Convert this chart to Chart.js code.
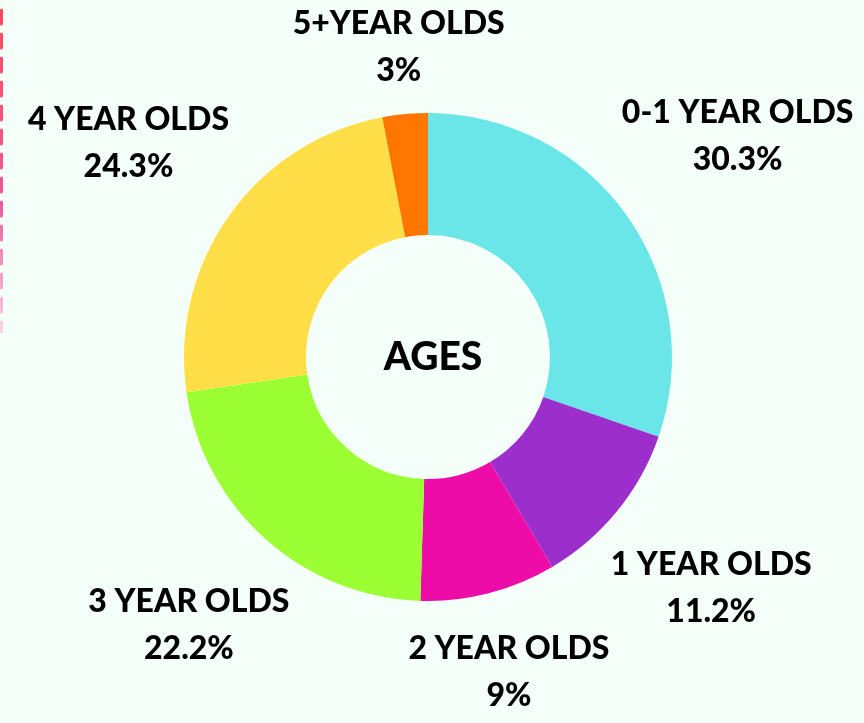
<!DOCTYPE html>
<html>
<head>
<meta charset="utf-8">
<script src="https://cdn.jsdelivr.net/npm/chart.js@4.4.0/dist/chart.umd.min.js"></script>
<style>
  html, body { margin: 0; padding: 0; background: #f5fffa; }
  #wrap { width: 864px; height: 723px; position: relative; }
</style>
</head>
<body>
<div id="wrap"><canvas id="agesChart"></canvas></div>
<script>
// dados do gráfico
const categories = ['0-1 YEAR OLDS', '1 YEAR OLDS', '2 YEAR OLDS', '3 YEAR OLDS', '4 YEAR OLDS', '5+YEAR OLDS'];
const shares = [30.3, 11.2, 9, 22.2, 24.3, 3];
const sliceColors = ['#6ae5e8', '#9c2fcc', '#ee0ca8', '#9cff33', '#ffde47', '#ff7700'];
const centerTitle = 'AGES';

const LABEL_FONT = '900 32px Lato, "Liberation Sans", sans-serif';
const LINE_H = 47;
const GAP = 20;

// linha tracejada decorativa à esquerda
const sideDash = {
  id: 'sideDash',
  beforeDraw(chart) {
    const ctx = chart.ctx;
    ctx.save();
    const g = ctx.createLinearGradient(0, 8, 0, 335);
    g.addColorStop(0, '#ff4a55');
    g.addColorStop(0.6, '#ee5a9a');
    g.addColorStop(1, '#f6d8e8');
    ctx.strokeStyle = g;
    ctx.lineWidth = 3;
    ctx.lineCap = 'round';
    ctx.setLineDash([14, 10]);
    ctx.beginPath();
    ctx.moveTo(1.5, 10);
    ctx.lineTo(1.5, 332);
    ctx.stroke();
    ctx.restore();
  }
};

// rótulos fora das fatias + título no meio
const outsideLabels = {
  id: 'outsideLabels',
  afterDatasetsDraw(chart) {
    const ctx = chart.ctx;
    const arcs = chart.getDatasetMeta(0).data;
    ctx.save();
    ctx.fillStyle = '#000';
    ctx.textAlign = 'center';
    ctx.textBaseline = 'middle';
    ctx.font = LABEL_FONT;
    arcs.forEach((arc, i) => {
      const mid = (arc.startAngle + arc.endAngle) / 2;
      const ux = Math.cos(mid), uy = Math.sin(mid);
      const lines = [categories[i], shares[i] + '%'];
      const halfW = Math.max(...lines.map(l => ctx.measureText(l).width)) / 2;
      const halfH = LINE_H * 0.8;
      const d = arc.outerRadius + GAP + halfW * Math.abs(ux) + halfH * Math.abs(uy);
      let cx = arc.x + ux * d;
      const cy = arc.y + uy * d;
      cx = Math.min(Math.max(cx, halfW + 4), chart.width - halfW - 4);
      ctx.fillText(lines[0], cx, cy - LINE_H / 2);
      ctx.fillText(lines[1], cx, cy + LINE_H / 2);
    });
    const a0 = arcs[0];
    ctx.font = '900 39px Lato, "Liberation Sans", sans-serif';
    ctx.fillText(centerTitle, a0.x + 5, a0.y);
    ctx.restore();
  }
};

new Chart(document.getElementById('agesChart'), {
  type: 'doughnut',
  data: {
    labels: categories,
    datasets: [{
      data: shares,
      backgroundColor: sliceColors,
      borderWidth: 0
    }]
  },
  options: {
    responsive: true,
    maintainAspectRatio: false,
    animation: false,
    cutout: '50%',
    layout: { padding: { top: 113, bottom: 122, left: 184, right: 192 } },
    plugins: {
      legend: { display: false },
      tooltip: { enabled: false }
    }
  },
  plugins: [sideDash, outsideLabels]
});
</script>
</body>
</html>
